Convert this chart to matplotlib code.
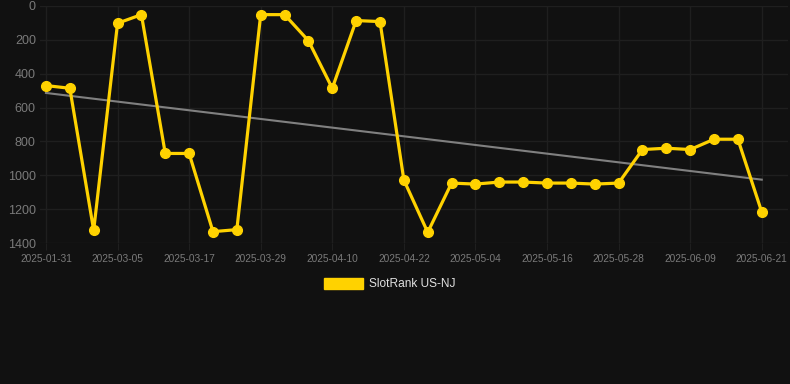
import numpy as np
import matplotlib
matplotlib.use("Agg")
import matplotlib.pyplot as plt
from matplotlib.patches import Patch

# category dates (only every third one is labelled on the axis)
dates = [
    "2025-01-31", "2025-02-12", "2025-02-24", "2025-03-05", "2025-03-09",
    "2025-03-13", "2025-03-17", "2025-03-21", "2025-03-25", "2025-03-29",
    "2025-04-02", "2025-04-06", "2025-04-10", "2025-04-14", "2025-04-18",
    "2025-04-22", "2025-04-26", "2025-04-30", "2025-05-04", "2025-05-08",
    "2025-05-12", "2025-05-16", "2025-05-20", "2025-05-24", "2025-05-28",
    "2025-06-01", "2025-06-05", "2025-06-09", "2025-06-13", "2025-06-17",
    "2025-06-21",
]
rank = [
    470, 486, 1325, 102, 51, 871, 871, 1333, 1321, 51,
    51, 205, 486, 86, 92, 1028, 1337, 1046, 1052, 1040,
    1040, 1046, 1046, 1052, 1046, 848, 840, 848, 787, 787,
    1217,
]

BG = "#111111"
GRID = "#1f1f1f"
TXT = "#7a7a7a"
YELLOW = "#FFD200"

x = np.arange(len(rank))
slope, icpt = np.polyfit(x, rank, 1)
trend = slope * x + icpt

fig = plt.figure(figsize=(7.9, 3.84), dpi=100, facecolor=BG)
ax = fig.add_axes([40 / 790, 1 - 243 / 384, 748 / 790, 237 / 384])
ax.set_facecolor(BG)

ax.plot(x, trend, color="#808080", linewidth=1.5, zorder=2)
ax.plot(x, rank, color=YELLOW, linewidth=2.3, marker="o", markersize=7,
        zorder=3)

ax.set_ylim(1400, 0)
ax.set_yticks(range(0, 1401, 200))
ax.set_xlim(-0.25, 31.1)
ax.set_xticks(x[::3])
ax.set_xticklabels(dates[::3])

ax.grid(True, color=GRID, linewidth=1.0)
for s in ax.spines.values():
    s.set_visible(False)
ax.tick_params(axis="y", length=0, pad=3, labelsize=9, labelcolor=TXT)
ax.tick_params(axis="x", length=5, color=GRID, pad=3, labelsize=7.3,
               labelcolor=TXT)
for lab in ax.get_xticklabels() + ax.get_yticklabels():
    lab.set_fontfamily("Liberation Sans")

handle = Patch(facecolor=YELLOW, edgecolor=YELLOW)
leg = fig.legend([handle], ["SlotRank US-NJ"], loc="center",
                 bbox_to_anchor=(390 / 790, 1 - 284 / 384), frameon=False,
                 handlelength=3.3, handleheight=1.05, handletextpad=0.5,
                 prop={"family": "Liberation Sans", "size": 8.6})
for t in leg.get_texts():
    t.set_color("#e0e0e0")

fig.savefig("out.png", dpi=100, facecolor=BG)
